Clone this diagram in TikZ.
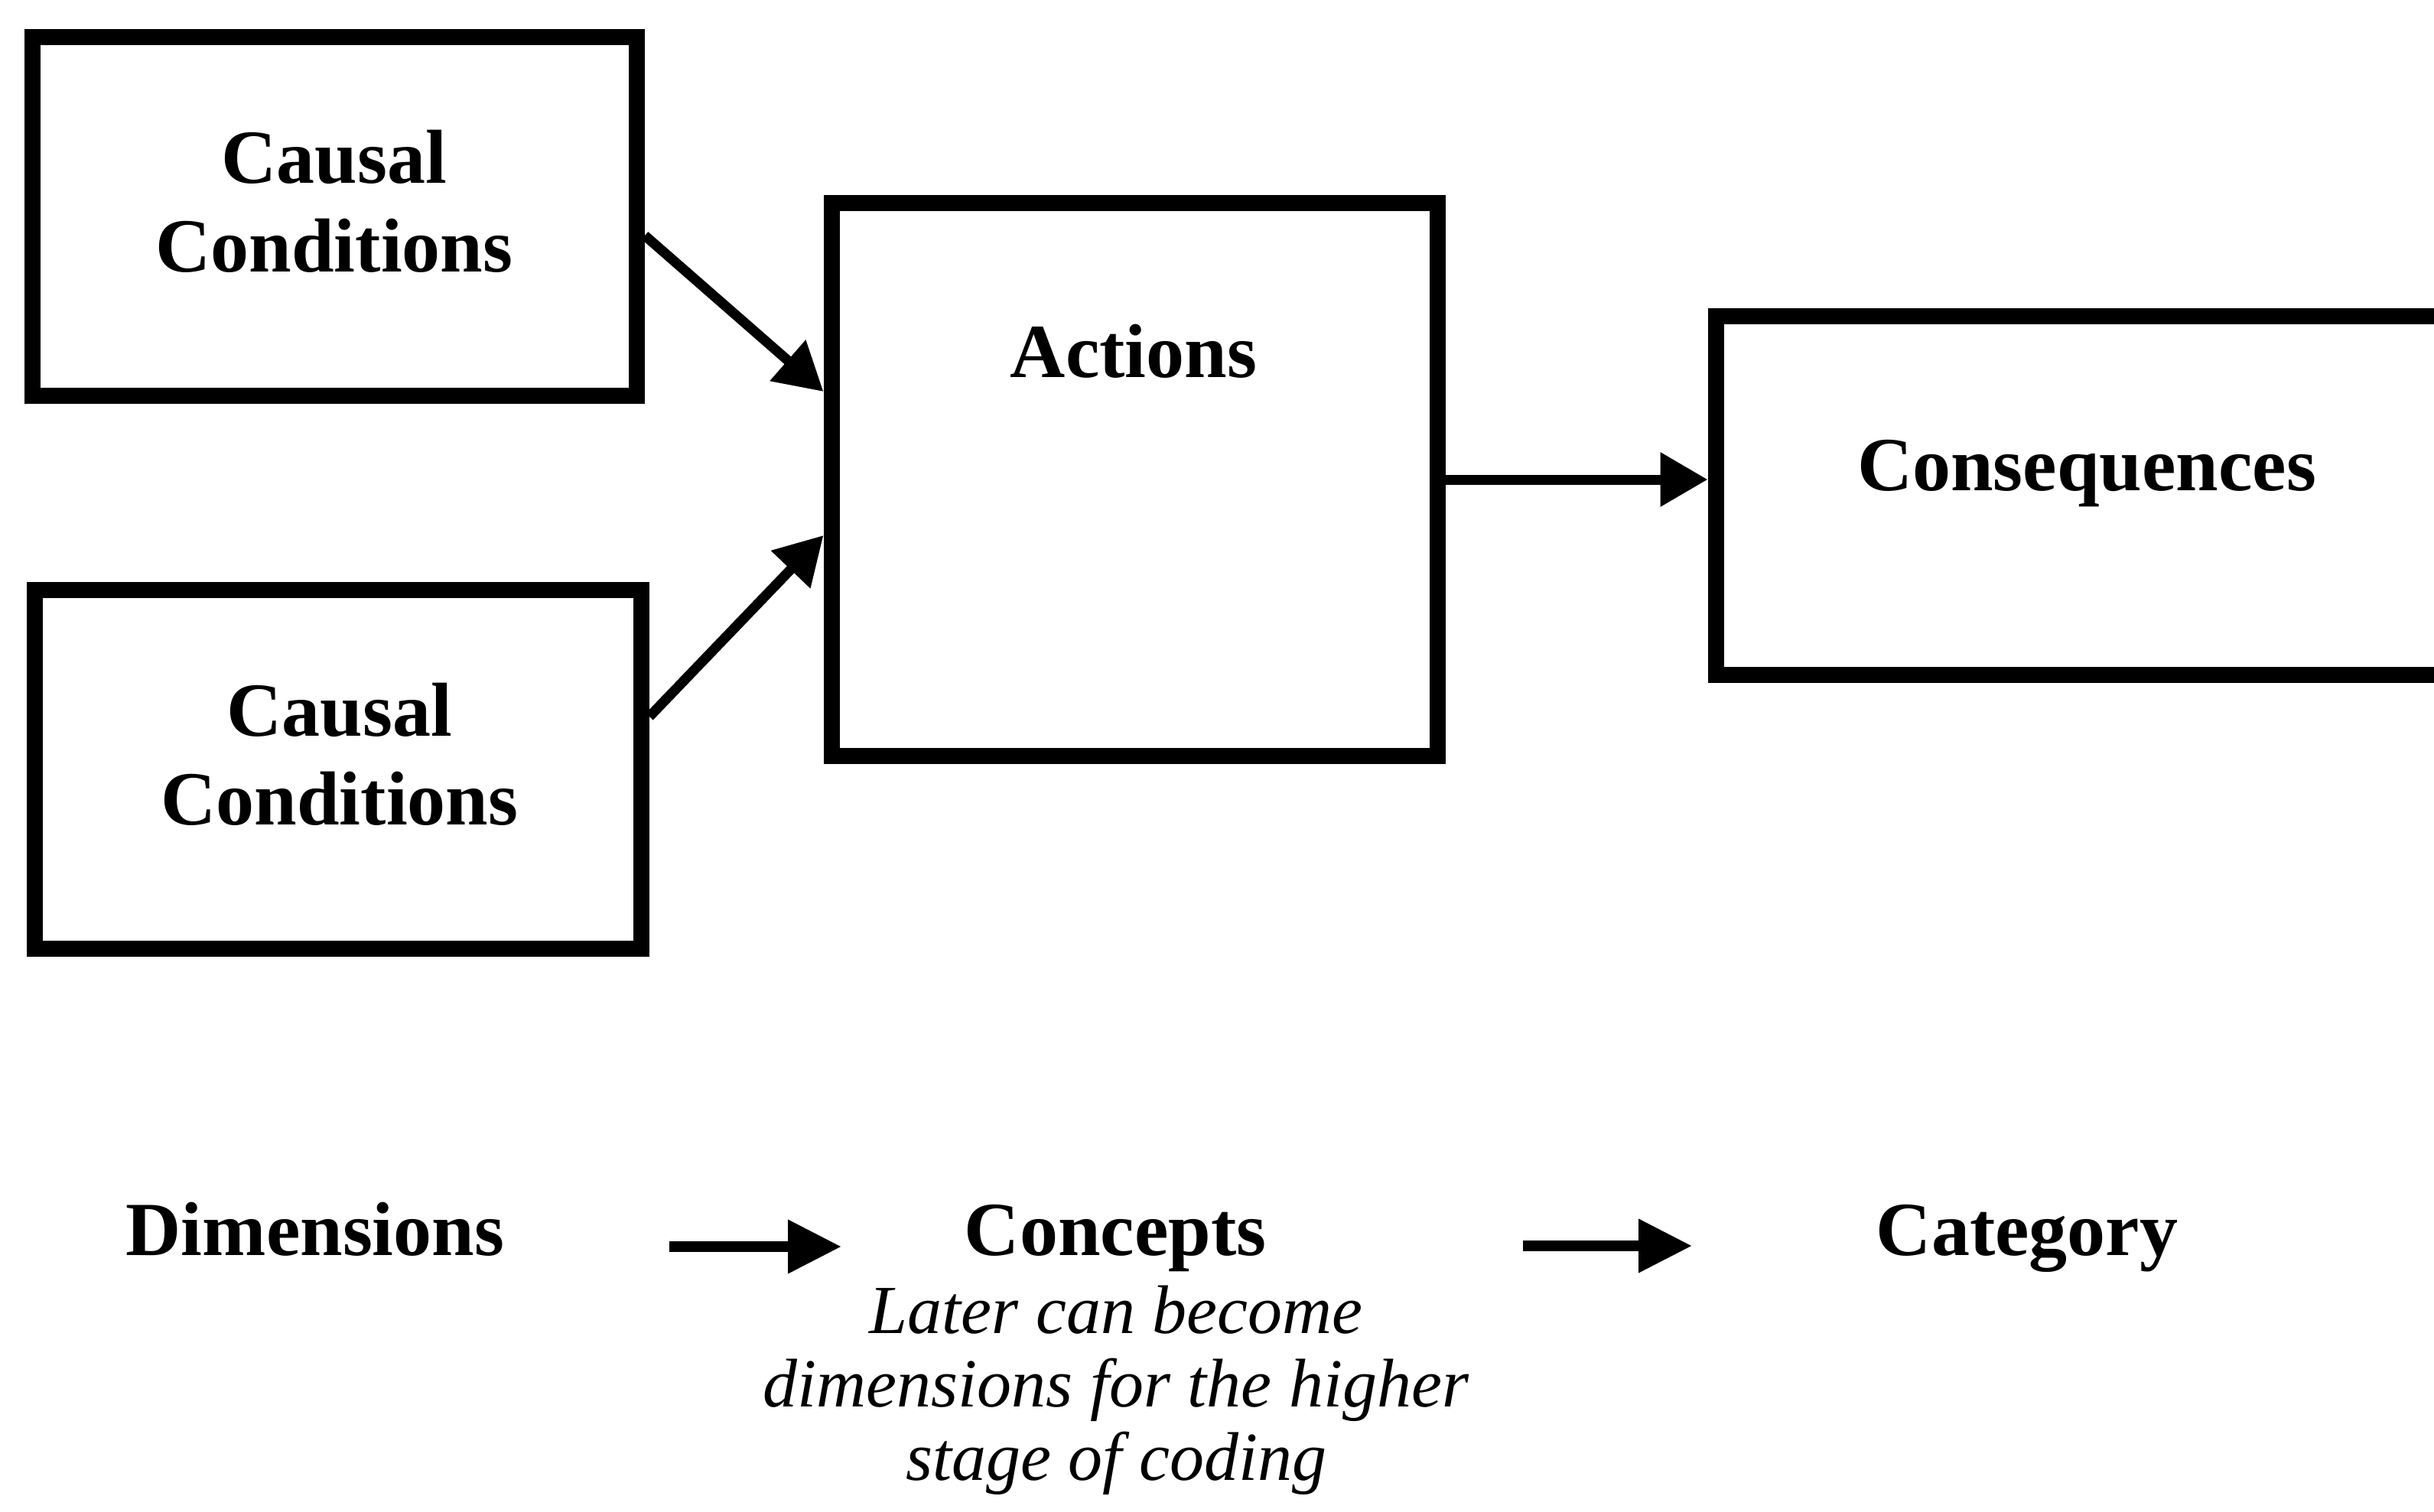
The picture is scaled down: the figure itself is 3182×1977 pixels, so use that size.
\documentclass[tikz,border=0pt]{standalone}
\usepackage{fontspec}
\setmainfont{Liberation Serif}
\usetikzlibrary{arrows.meta,calc}
\begin{document}
\begin{tikzpicture}[x=1pt,y=-1pt,
  boxframe/.style={draw=black, line width=21pt, rectangle, inner sep=0pt},
  headtxt/.style={font=\fontsize{100}{116}\selectfont\bfseries, align=center, inner sep=0pt, anchor=base},
  notetxt/.style={font=\fontsize{90}{96}\selectfont\itshape, align=center, inner sep=0pt, anchor=base},
  link/.style={draw=black, line width=13pt, -{Triangle[length=62pt,width=68pt]}},
  flow/.style={draw=black, line width=14pt, -{Triangle[length=70pt,width=67pt]}}]
\useasboundingbox (0,0) rectangle (3182,1977);
\clip (0,0) rectangle (3182,1977);

% boxes
\node[boxframe, minimum width=790pt, minimum height=469pt] (cc1) at (437.5,283) {};
\node[boxframe, minimum width=793pt, minimum height=469pt] (cc2) at (442,1006) {};
\node[boxframe, minimum width=792pt, minimum height=723pt] (act) at (1483,627) {};
\node[boxframe, minimum width=970pt, minimum height=469pt] (cons) at (2728,648) {};

% box titles (base anchor sits on the last line)
\node[headtxt] (cc1t) at (437,355) {Causal\\Conditions};
\node[headtxt] (cc2t) at (444,1078) {Causal\\Conditions};
\node[headtxt] (actt) at (1482,493) {Actions};
\node[headtxt] (const) at (2728,641) {Consequences};

% connectors between boxes
\draw[link] ([yshift=-25pt]cc1.east) -- ([yshift=115pt]act.west);
\draw[link] ([yshift=69pt]cc2.east) -- ([yshift=-73pt]act.west);
\draw[link] (act.east) -- (act.east -| cons.west);

% lower row
\node[headtxt] (dim) at (412,1641) {Dimensions};
\node[headtxt] (con) at (1458,1641) {Concepts};
\node[headtxt] (cat) at (2650,1641) {Category};
\node[notetxt] (note) at (1459,1935) {Later can become\\dimensions for the higher\\stage of coding};

\coordinate (f1a) at (875,1630);
\coordinate (f1b) at (1100,1630);
\coordinate (f2a) at (1991,1629);
\coordinate (f2b) at (2212,1629);
\draw[flow] (f1a) -- (f1b);
\draw[flow] (f2a) -- (f2b);
\end{tikzpicture}
\end{document}
